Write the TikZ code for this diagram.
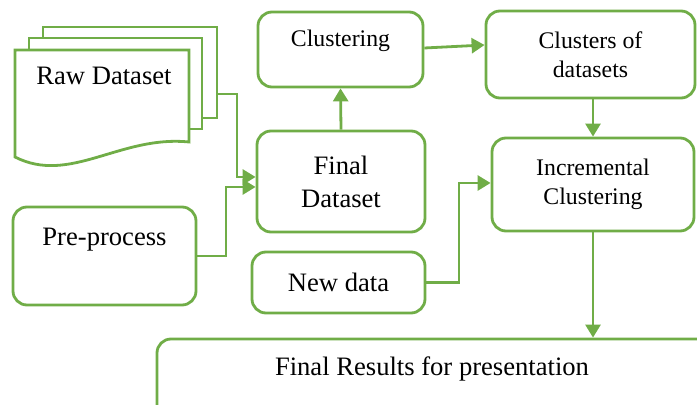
\documentclass[tikz,border=0pt]{standalone}
\usepackage{fontspec}
\setmainfont{Liberation Serif}
\usetikzlibrary{arrows.meta}
\definecolor{grn}{HTML}{70AD47}
\tikzset{
  box/.style={draw=grn, line width=1.4pt, rounded corners=7pt, fill=white, inner sep=0pt, align=center},
  bigtxt/.style={font=\fontsize{13.3pt}{16.5pt}\selectfont, align=center, inner sep=0pt},
  smalltxt/.style={font=\fontsize{11.9pt}{14.5pt}\selectfont, align=center, inner sep=0pt},
  conn/.style={draw=grn, line width=1.4pt, -{Triangle[length=6.5pt,width=7.5pt]}},
  page/.style={draw=grn, line width=1.4pt, fill=white}
}
\begin{document}
\begin{tikzpicture}[x=0.5pt,y=-0.5pt]
\useasboundingbox (0,0) rectangle (697,405);
\clip (0,0) rectangle (697,405);
% Raw Dataset (multiple documents)
\draw[page] (43,27) rectangle (217,118);
\draw[page] (29,38) rectangle (202,129);
\draw[page] (15,50) -- (189,50) -- (189,142) .. controls (120,135) and (70,185) .. (15,157) -- cycle;
\node[bigtxt] (rawtext) at (104,76) {Raw Dataset};
\coordinate (rawout) at (217,94);
% boxes
\node[box, minimum width=82.5pt, minimum height=37.5pt] (clust) at (340.5,49.5) {};
\node[smalltxt] (clusttext) at (340.5,41) {Clustering};
\node[box, smalltxt, minimum width=104.5pt, minimum height=43.5pt] (clusters) at (590.5,54.5) {Clusters of\\datasets};
\node[box, bigtxt, minimum width=84pt, minimum height=50.5pt] (fd) at (341,181.5) {Final\\Dataset};
\node[box, smalltxt, minimum width=101pt, minimum height=46.5pt] (incr) at (593,184.5) {Incremental\\Clustering};
\node[box, bigtxt, minimum width=86.5pt, minimum height=30.5pt] (newd) at (338.5,282.5) {New data};
\node[box, minimum width=91.5pt, minimum height=49pt] (pre) at (104.5,256) {};
\node[bigtxt] (pretext) at (104.5,240) {Pre-process};
\node[box, minimum width=281.5pt, minimum height=45.5pt] (fin) at (438.5,384.5) {};
\node[bigtxt] (fintext) at (432,369) {Final Results for presentation};
% connectors
\coordinate (j1) at (237,177);
\coordinate (j2) at (226,187);
\coordinate (j3) at (459,183);
\draw[conn] (rawout) -| (j1) -- (j1 -| fd.west);
\draw[conn] (pre.east) -| (j2) -- (j2 -| fd.west);
\draw[conn] (fd.north) -- (clust.south);
\draw[conn] ([yshift=0.75pt]clust.east) -- ([yshift=4.75pt]clusters.west);
\draw[conn] (incr.north |- clusters.south) -- (incr.north);
\draw[conn] (newd.east) -| (j3) -- (j3 -| incr.west);
\draw[conn] (incr.south) -- (incr.south |- fin.north);
\end{tikzpicture}
\end{document}
